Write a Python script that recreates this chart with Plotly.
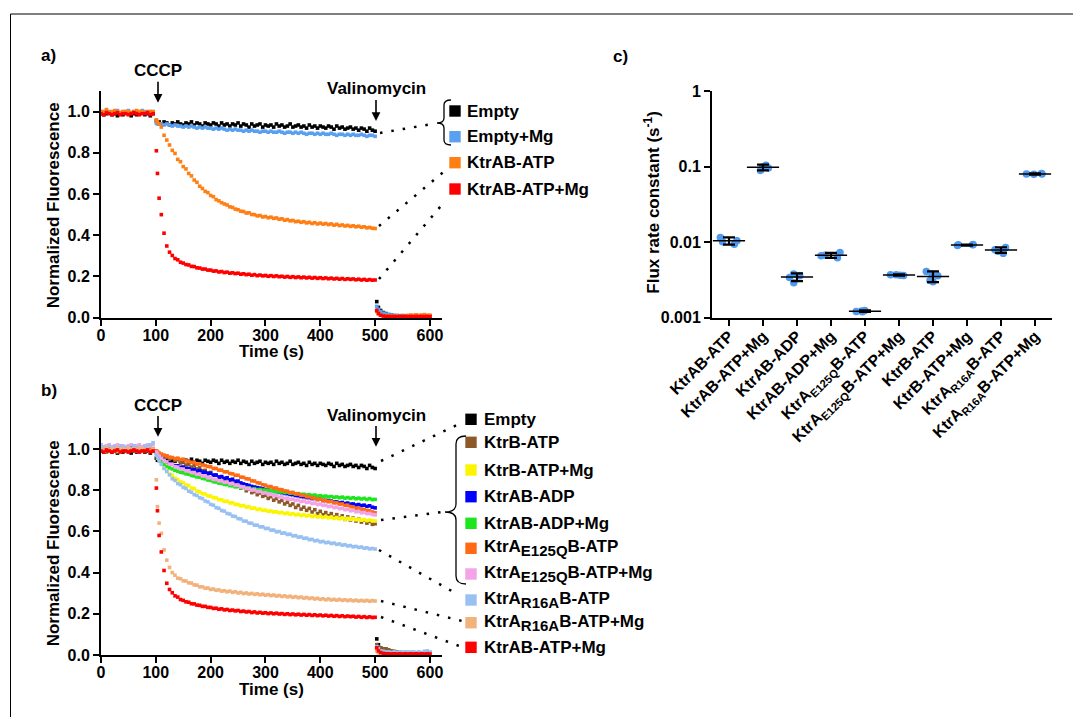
import plotly.graph_objects as go

# page body has an 8px margin: draw a 1065x709 figure and map reference pixels onto it
OFF = 8
W, H = 1081 - 2 * OFF, 725 - 2 * OFF
FONT = "Liberation Sans, Arial, sans-serif"


def X(p):
    return (p - OFF) / W


def Y(p):
    return 1 - (p - OFF) / H


# ---------------- time grid (s) ----------------
t_pre = list(range(0, 100, 5))
t_post = [101, 103, 106] + list(range(110, 501, 5))
t_val = [503, 506] + list(range(510, 601, 5))
time = t_pre + t_post + t_val

# ---------------- panel a / b series (normalized fluorescence) ----------------
empty = [
    0.99, 0.985, 0.99, 0.995, 0.985, 0.99, 0.98, 0.99, 0.985, 0.995,
    0.99, 0.98, 0.99, 0.985, 0.99, 0.995, 0.985, 0.99, 0.98, 0.99,
    0.955, 0.945, 0.95,
    0.94, 0.95, 0.945, 0.935, 0.945, 0.94, 0.95, 0.94, 0.935, 0.945,
    0.94, 0.95, 0.935, 0.945, 0.94, 0.93, 0.945, 0.94, 0.935, 0.945,
    0.94, 0.93, 0.945, 0.935, 0.94, 0.93, 0.94, 0.935, 0.945, 0.93,
    0.94, 0.935, 0.925, 0.94, 0.93, 0.935, 0.94, 0.925, 0.935, 0.93,
    0.935, 0.925, 0.94, 0.93, 0.935, 0.925, 0.93, 0.94, 0.925, 0.93,
    0.935, 0.925, 0.93, 0.92, 0.935, 0.925, 0.93, 0.92, 0.93, 0.925,
    0.92, 0.93, 0.925, 0.915, 0.93, 0.92, 0.925, 0.915, 0.92, 0.925,
    0.915, 0.92, 0.91, 0.92, 0.915, 0.905, 0.92, 0.91, 0.905,
    0.078, 0.05,
    0.035, 0.025, 0.02, 0.015, 0.012, 0.01, 0.01, 0.008, 0.01, 0.008,
    0.01, 0.008, 0.01, 0.008, 0.01, 0.01, 0.008, 0.01, 0.008,
]
empty_mg = [
    1.0, 0.995, 1.005, 1.0, 0.995, 1.0, 1.005, 0.995, 1.0, 1.0,
    1.005, 0.995, 1.0, 1.0, 0.995, 1.005, 1.0, 0.995, 1.0, 1.0,
    0.945, 0.94, 0.94,
    0.94, 0.935, 0.94, 0.935, 0.93, 0.935, 0.93, 0.93, 0.925, 0.93,
    0.925, 0.93, 0.925, 0.92, 0.925, 0.92, 0.925, 0.92, 0.92, 0.915,
    0.92, 0.915, 0.92, 0.915, 0.91, 0.915, 0.91, 0.915, 0.91, 0.91,
    0.905, 0.91, 0.905, 0.91, 0.905, 0.905, 0.9, 0.905, 0.905, 0.9,
    0.905, 0.9, 0.9, 0.905, 0.9, 0.895, 0.9, 0.9, 0.895, 0.9,
    0.895, 0.9, 0.895, 0.89, 0.895, 0.895, 0.89, 0.895, 0.89, 0.895,
    0.89, 0.89, 0.895, 0.89, 0.885, 0.89, 0.89, 0.885, 0.89, 0.885,
    0.89, 0.885, 0.885, 0.89, 0.885, 0.88, 0.885, 0.885, 0.88,
    0.055, 0.04,
    0.03, 0.022, 0.018, 0.015, 0.012, 0.01, 0.01, 0.01, 0.008, 0.01,
    0.008, 0.01, 0.008, 0.01, 0.008, 0.008, 0.01, 0.008, 0.01,
]
ktrab_atp = [
    1.0, 1.0, 1.01, 0.995, 1.0, 1.005, 1.0, 0.995, 1.0, 1.0,
    1.0, 0.995, 1.0, 1.005, 1.0, 1.0, 0.995, 1.0, 1.0, 1.0,
    0.96, 0.95, 0.94,
    0.925, 0.885, 0.862, 0.838, 0.812, 0.797, 0.768, 0.757, 0.733, 0.722,
    0.70, 0.688, 0.668, 0.657, 0.638, 0.627, 0.613, 0.607, 0.593, 0.587,
    0.573, 0.567, 0.558, 0.552, 0.547, 0.538, 0.535, 0.527, 0.524, 0.517,
    0.515, 0.508, 0.509, 0.501, 0.5, 0.494, 0.496, 0.489, 0.491, 0.485,
    0.488, 0.482, 0.484, 0.478, 0.480, 0.473, 0.476, 0.470, 0.472, 0.466,
    0.468, 0.463, 0.466, 0.46, 0.463, 0.457, 0.461, 0.455, 0.459, 0.454,
    0.457, 0.452, 0.455, 0.449, 0.453, 0.447, 0.45, 0.445, 0.448, 0.443,
    0.446, 0.441, 0.444, 0.439, 0.441, 0.436, 0.438, 0.434, 0.433,
    0.03, 0.02,
    0.012, 0.01, 0.008, 0.008, 0.006, 0.008, 0.006, 0.008, 0.006, 0.008,
    0.01, 0.012, 0.01, 0.014, 0.01, 0.012, 0.015, 0.01, 0.012,
]
ktrab_atp_mg = [
    0.99, 0.985, 0.995, 0.99, 0.985, 0.99, 0.995, 0.985, 0.99, 0.99,
    0.985, 0.99, 0.995, 0.99, 0.985, 0.99, 0.99, 0.995, 0.985, 0.99,
    0.81, 0.70, 0.58,
    0.50, 0.41, 0.348, 0.318, 0.302, 0.287, 0.281, 0.269, 0.265, 0.258,
    0.256, 0.249, 0.248, 0.242, 0.241, 0.236, 0.236, 0.231, 0.231, 0.226,
    0.227, 0.222, 0.224, 0.219, 0.221, 0.216, 0.218, 0.214, 0.216, 0.211,
    0.213, 0.209, 0.211, 0.206, 0.209, 0.204, 0.207, 0.203, 0.205, 0.201,
    0.204, 0.2, 0.203, 0.199, 0.201, 0.197, 0.2, 0.196, 0.199, 0.195,
    0.198, 0.194, 0.197, 0.193, 0.196, 0.192, 0.195, 0.191, 0.194, 0.19,
    0.193, 0.189, 0.192, 0.188, 0.191, 0.187, 0.19, 0.186, 0.189, 0.186,
    0.188, 0.184, 0.187, 0.183, 0.186, 0.182, 0.185, 0.182, 0.183,
    0.035, 0.02,
    0.012, 0.008, 0.006, 0.006, 0.005, 0.006, 0.005, 0.006, 0.005, 0.006,
    0.005, 0.006, 0.005, 0.006, 0.005, 0.006, 0.005, 0.006, 0.005,
]
ktrb_atp = [
    0.99, 1.0, 0.985, 0.995, 1.0, 0.99, 0.985, 1.0, 0.995, 0.99,
    0.985, 1.0, 0.99, 0.995, 0.985, 1.0, 0.99, 0.995, 1.0, 0.99,
    0.99, 0.98, 0.975,
    0.97, 0.962, 0.965, 0.952, 0.957, 0.944, 0.948, 0.932, 0.936, 0.922,
    0.925, 0.912, 0.918, 0.903, 0.908, 0.894, 0.896, 0.884, 0.886, 0.872,
    0.873, 0.861, 0.866, 0.849, 0.853, 0.837, 0.843, 0.826, 0.829, 0.81,
    0.817, 0.797, 0.806, 0.788, 0.793, 0.778, 0.786, 0.77, 0.775, 0.76,
    0.768, 0.751, 0.759, 0.743, 0.75, 0.733, 0.741, 0.726, 0.733, 0.716,
    0.726, 0.708, 0.717, 0.702, 0.711, 0.694, 0.705, 0.686, 0.697, 0.681,
    0.691, 0.676, 0.686, 0.669, 0.681, 0.664, 0.675, 0.658, 0.67, 0.655,
    0.664, 0.65, 0.66, 0.645, 0.655, 0.64, 0.648, 0.634, 0.637,
    0.05, 0.04,
    0.035, 0.03, 0.03, 0.025, 0.02, 0.018, 0.015, 0.015, 0.012, 0.012,
    0.01, 0.012, 0.01, 0.01, 0.012, 0.01, 0.01, 0.012, 0.01,
]
ktrb_atp_mg = [
    1.0, 0.99, 1.0, 0.995, 1.0, 1.005, 0.99, 1.0, 0.995, 1.0,
    0.99, 1.0, 1.005, 0.995, 0.99, 1.0, 0.995, 1.0, 0.99, 1.0,
    0.98, 0.965, 0.95,
    0.93, 0.91, 0.895, 0.878, 0.872, 0.858, 0.852, 0.84, 0.836, 0.825,
    0.822, 0.81, 0.807, 0.795, 0.792, 0.783, 0.781, 0.772, 0.771, 0.763,
    0.762, 0.754, 0.753, 0.746, 0.746, 0.738, 0.738, 0.731, 0.73, 0.724,
    0.725, 0.718, 0.719, 0.712, 0.713, 0.706, 0.708, 0.702, 0.703, 0.697,
    0.699, 0.694, 0.695, 0.69, 0.692, 0.686, 0.689, 0.683, 0.686, 0.68,
    0.683, 0.677, 0.68, 0.675, 0.678, 0.672, 0.676, 0.67, 0.673, 0.668,
    0.671, 0.666, 0.669, 0.663, 0.667, 0.661, 0.665, 0.659, 0.663, 0.658,
    0.661, 0.656, 0.659, 0.654, 0.657, 0.652, 0.655, 0.651, 0.65,
    0.03, 0.02,
    0.012, 0.01, 0.008, 0.008, 0.008, 0.006, 0.008, 0.006, 0.008, 0.006,
    0.008, 0.006, 0.008, 0.006, 0.008, 0.006, 0.008, 0.006, 0.008,
]
ktrab_adp = [
    1.0, 1.005, 0.995, 1.0, 1.0, 0.995, 1.005, 1.0, 0.995, 1.0,
    1.0, 1.005, 0.995, 1.0, 0.995, 1.0, 1.005, 1.0, 0.995, 1.0,
    0.985, 0.975, 0.965,
    0.955, 0.945, 0.937, 0.928, 0.926, 0.918, 0.918, 0.911, 0.912, 0.905,
    0.905, 0.898, 0.9, 0.892, 0.895, 0.887, 0.887, 0.88, 0.882, 0.873,
    0.873, 0.864, 0.865, 0.857, 0.86, 0.85, 0.853, 0.843, 0.844, 0.835,
    0.83, 0.826, 0.823, 0.818, 0.815, 0.812, 0.81, 0.806, 0.803, 0.8,
    0.798, 0.794, 0.793, 0.789, 0.788, 0.784, 0.783, 0.779, 0.778, 0.774,
    0.773, 0.769, 0.768, 0.764, 0.764, 0.759, 0.76, 0.755, 0.756, 0.75,
    0.75, 0.747, 0.747, 0.742, 0.743, 0.738, 0.74, 0.735, 0.737, 0.732,
    0.733, 0.728, 0.73, 0.725, 0.727, 0.721, 0.724, 0.717, 0.714,
    0.035, 0.025,
    0.015, 0.012, 0.01, 0.01, 0.008, 0.008, 0.008, 0.01, 0.008, 0.008,
    0.01, 0.008, 0.008, 0.01, 0.008, 0.008, 0.01, 0.008, 0.008,
]
ktrab_adp_mg = [
    0.995, 1.0, 1.005, 0.995, 1.0, 0.995, 1.0, 1.005, 1.0, 0.995,
    1.0, 0.995, 1.005, 1.0, 0.995, 1.0, 1.0, 0.995, 1.005, 1.0,
    0.98, 0.97, 0.955,
    0.94, 0.925, 0.915, 0.908, 0.903, 0.896, 0.892, 0.887, 0.884, 0.879,
    0.877, 0.871, 0.869, 0.864, 0.863, 0.857, 0.855, 0.849, 0.847, 0.841,
    0.839, 0.834, 0.833, 0.828, 0.827, 0.822, 0.821, 0.816, 0.817, 0.813,
    0.813, 0.809, 0.81, 0.805, 0.806, 0.802, 0.803, 0.8, 0.8, 0.797,
    0.798, 0.794, 0.795, 0.791, 0.792, 0.788, 0.79, 0.785, 0.786, 0.782,
    0.783, 0.779, 0.78, 0.776, 0.778, 0.774, 0.776, 0.771, 0.773, 0.769,
    0.771, 0.767, 0.769, 0.765, 0.767, 0.763, 0.766, 0.761, 0.764, 0.76,
    0.763, 0.758, 0.761, 0.757, 0.76, 0.755, 0.759, 0.754, 0.755,
    0.03, 0.02,
    0.012, 0.01, 0.01, 0.008, 0.008, 0.008, 0.01, 0.008, 0.008, 0.008,
    0.008, 0.01, 0.008, 0.008, 0.008, 0.01, 0.008, 0.008, 0.008,
]
e125q_atp = [
    1.0, 0.995, 1.005, 1.0, 0.995, 1.0, 1.0, 1.005, 0.995, 1.0,
    1.005, 1.0, 0.995, 1.0, 1.0, 0.995, 1.005, 1.0, 1.0, 0.995,
    0.99, 0.985, 0.98,
    0.975, 0.97, 0.966, 0.96, 0.958, 0.953, 0.955, 0.948, 0.95, 0.942,
    0.94, 0.935, 0.934, 0.926, 0.928, 0.922, 0.919, 0.915, 0.913, 0.905,
    0.905, 0.897, 0.897, 0.889, 0.889, 0.881, 0.879, 0.872, 0.872, 0.863,
    0.862, 0.855, 0.854, 0.845, 0.844, 0.836, 0.834, 0.826, 0.824, 0.817,
    0.817, 0.81, 0.81, 0.803, 0.802, 0.796, 0.795, 0.788, 0.789, 0.782,
    0.782, 0.775, 0.775, 0.768, 0.768, 0.762, 0.761, 0.754, 0.756, 0.749,
    0.75, 0.744, 0.745, 0.738, 0.739, 0.732, 0.733, 0.726, 0.727, 0.72,
    0.718, 0.712, 0.712, 0.706, 0.706, 0.7, 0.7, 0.694, 0.69,
    0.03, 0.02,
    0.015, 0.012, 0.01, 0.01, 0.008, 0.008, 0.008, 0.008, 0.01, 0.008,
    0.008, 0.01, 0.012, 0.01, 0.008, 0.01, 0.008, 0.008, 0.008,
]
e125q_atp_mg = [
    1.02, 1.01, 1.015, 1.02, 1.01, 1.015, 1.02, 1.01, 1.015, 1.01,
    1.015, 1.02, 1.01, 1.015, 1.02, 1.01, 1.015, 1.02, 1.015, 1.02,
    0.985, 0.975, 0.965,
    0.955, 0.945, 0.937, 0.926, 0.924, 0.914, 0.912, 0.903, 0.902, 0.894,
    0.894, 0.885, 0.885, 0.877, 0.877, 0.869, 0.869, 0.86, 0.86, 0.852,
    0.852, 0.845, 0.845, 0.838, 0.839, 0.831, 0.832, 0.824, 0.824, 0.816,
    0.816, 0.808, 0.808, 0.8, 0.801, 0.793, 0.794, 0.786, 0.787, 0.78,
    0.78, 0.773, 0.774, 0.766, 0.767, 0.76, 0.761, 0.755, 0.756, 0.75,
    0.752, 0.745, 0.747, 0.74, 0.742, 0.735, 0.737, 0.73, 0.732, 0.726,
    0.727, 0.72, 0.722, 0.715, 0.717, 0.71, 0.712, 0.705, 0.707, 0.7,
    0.702, 0.695, 0.697, 0.69, 0.692, 0.686, 0.687, 0.682, 0.68,
    0.02, 0.015,
    0.01, 0.008, 0.008, 0.006, 0.008, 0.006, 0.008, 0.006, 0.008, 0.006,
    0.008, 0.006, 0.008, 0.006, 0.008, 0.006, 0.008, 0.006, 0.008,
]
r16a_atp = [
    1.02, 1.01, 1.0, 1.015, 1.005, 1.01, 1.0, 1.015, 1.01, 1.005,
    1.01, 1.0, 1.015, 1.005, 1.01, 1.0, 1.015, 1.01, 1.02, 1.03,
    0.97, 0.955, 0.94,
    0.925, 0.905, 0.89, 0.874, 0.855, 0.847, 0.832, 0.826, 0.813, 0.808,
    0.795, 0.79, 0.778, 0.774, 0.763, 0.759, 0.747, 0.743, 0.731, 0.727,
    0.715, 0.712, 0.701, 0.698, 0.687, 0.684, 0.674, 0.672, 0.662, 0.66,
    0.65, 0.649, 0.64, 0.639, 0.63, 0.63, 0.622, 0.622, 0.614, 0.614,
    0.606, 0.606, 0.598, 0.599, 0.591, 0.592, 0.585, 0.586, 0.578, 0.579,
    0.572, 0.573, 0.566, 0.567, 0.56, 0.561, 0.554, 0.556, 0.549, 0.551,
    0.545, 0.547, 0.541, 0.543, 0.537, 0.539, 0.533, 0.535, 0.529, 0.531,
    0.525, 0.527, 0.522, 0.524, 0.518, 0.52, 0.515, 0.517, 0.514,
    0.04, 0.03,
    0.02, 0.018, 0.015, 0.015, 0.012, 0.015, 0.012, 0.015, 0.012, 0.015,
    0.015, 0.012, 0.015, 0.012, 0.015, 0.012, 0.018, 0.02, 0.015,
]
r16a_atp_mg = [
    1.0, 0.99, 1.005, 0.995, 1.0, 0.99, 1.005, 0.995, 1.0, 0.99,
    1.005, 0.995, 1.0, 0.99, 1.005, 1.0, 0.995, 1.0, 0.99, 1.0,
    0.85, 0.72, 0.64,
    0.59, 0.51, 0.46, 0.425, 0.40, 0.387, 0.373, 0.37, 0.36, 0.359,
    0.35, 0.349, 0.34, 0.339, 0.331, 0.331, 0.324, 0.325, 0.318, 0.32,
    0.314, 0.316, 0.31, 0.312, 0.307, 0.31, 0.304, 0.307, 0.301, 0.304,
    0.298, 0.301, 0.296, 0.299, 0.294, 0.297, 0.292, 0.295, 0.29, 0.293,
    0.288, 0.291, 0.286, 0.289, 0.284, 0.287, 0.282, 0.285, 0.28, 0.283,
    0.278, 0.281, 0.276, 0.279, 0.274, 0.277, 0.272, 0.275, 0.27, 0.273,
    0.268, 0.272, 0.267, 0.27, 0.266, 0.27, 0.265, 0.268, 0.264, 0.267,
    0.263, 0.266, 0.262, 0.265, 0.262, 0.265, 0.261, 0.264, 0.262,
    0.02, 0.01,
    0.006, 0.005, 0.004, 0.004, 0.004, 0.004, 0.004, 0.004, 0.004, 0.004,
    0.004, 0.004, 0.004, 0.004, 0.004, 0.004, 0.004, 0.004, 0.004,
]

names_a = ["Empty", "Empty+Mg", "KtrAB-ATP", "KtrAB-ATP+Mg"]
series_a = [empty, empty_mg, ktrab_atp, ktrab_atp_mg]
colors_a = ["#000000", "#5aa0f0", "#ff7f14", "#ff0000"]

SUB = '<sub><span style="font-size:15px">{}</span></sub>'
names_b = [
    "Empty", "KtrB-ATP", "KtrB-ATP+Mg", "KtrAB-ADP", "KtrAB-ADP+Mg",
    "KtrA" + SUB.format("E125Q") + "B-ATP",
    "KtrA" + SUB.format("E125Q") + "B-ATP+Mg",
    "KtrA" + SUB.format("R16A") + "B-ATP",
    "KtrA" + SUB.format("R16A") + "B-ATP+Mg",
    "KtrAB-ATP+Mg",
]
series_b = [empty, ktrb_atp, ktrb_atp_mg, ktrab_adp, ktrab_adp_mg,
            e125q_atp, e125q_atp_mg, r16a_atp, r16a_atp_mg, ktrab_atp_mg]
colors_b = ["#000000", "#8c5a28", "#fbf500", "#0000ff", "#1ee61e",
            "#ff6a13", "#f3a3e6", "#98c1f2", "#f2b27c", "#ff0000"]

# ---------------- panel c ----------------
categories = [
    "KtrAB-ATP", "KtrAB-ATP+Mg", "KtrAB-ADP", "KtrAB-ADP+Mg",
    "KtrA<sub>E125Q</sub>B-ATP", "KtrA<sub>E125Q</sub>B-ATP+Mg",
    "KtrB-ATP", "KtrB-ATP+Mg",
    "KtrA<sub>R16A</sub>B-ATP", "KtrA<sub>R16A</sub>B-ATP+Mg",
]
replicates = [
    [0.0115, 0.0104, 0.0094, 0.0101],
    [0.104, 0.099, 0.089, 0.096],
    [0.0038, 0.0036, 0.0029, 0.0034],
    [0.0073, 0.0067, 0.0062, 0.0066],
    [0.00125, 0.00121, 0.00123, 0.00120],
    [0.0037, 0.00365, 0.0037, 0.00362],
    [0.0041, 0.0038, 0.0030, 0.0031, 0.0036],
    [0.0093, 0.0092, 0.0090, 0.0092],
    [0.0085, 0.0079, 0.0071, 0.0076],
    [0.081, 0.079, 0.080, 0.0795],
]
means = [0.0104, 0.0977, 0.00345, 0.0067, 0.00122, 0.00367, 0.00352, 0.00916, 0.00787, 0.0797]
sds = [0.00115, 0.0085, 0.0004, 0.00052, 0.00003, 0.00008, 0.00057, 0.00015, 0.00068, 0.0015]
y_ticks_c = [0.001, 0.01, 0.1, 1]
y_ticklabels_c = ["0.001", "0.01", "0.1", "1"]

fig = go.Figure()

for ys, col in zip(series_a, colors_a):
    fig.add_trace(go.Scatter(x=time, y=ys, mode="markers", xaxis="x", yaxis="y",
                             marker=dict(symbol="square", size=3.6, color=col),
                             cliponaxis=False, showlegend=False, hoverinfo="skip"))
for ys, col in zip(series_b, colors_b):
    fig.add_trace(go.Scatter(x=time, y=ys, mode="markers", xaxis="x2", yaxis="y2",
                             marker=dict(symbol="square", size=3.6, color=col),
                             cliponaxis=False, showlegend=False, hoverinfo="skip"))

bx, by = [], []
for i, reps in enumerate(replicates):
    bx += [i] * len(reps)
    by += reps
fig.add_trace(go.Box(x=bx, y=by, boxpoints="all", jitter=1.0, pointpos=0, width=0.6,
                     fillcolor="rgba(0,0,0,0)", line=dict(color="rgba(0,0,0,0)", width=0),
                     marker=dict(color="#4f9af0", size=7.5), xaxis="x3", yaxis="y3",
                     showlegend=False, hoverinfo="skip"))
fig.add_trace(go.Scatter(x=list(range(len(categories))), y=means, mode="markers",
                         xaxis="x3", yaxis="y3",
                         marker=dict(symbol="line-ew", size=23, color="black",
                                     line=dict(color="black", width=1.5)),
                         error_y=dict(type="data", array=sds, color="black",
                                      thickness=2.2, width=6),
                         showlegend=False, hoverinfo="skip", cliponaxis=False))

tickfont = dict(family=FONT, size=16, color="black", weight="bold")
common = dict(showline=True, linecolor="black", linewidth=2, ticks="outside",
              ticklen=6, tickwidth=2, tickcolor="black", showgrid=False,
              zeroline=False, tickfont=tickfont, automargin=False)
xr = [0, 622]
fig.update_layout(
    width=W, height=H, autosize=False,
    margin=dict(l=0, r=0, t=0, b=0, pad=0, autoexpand=False),
    showlegend=False,
    paper_bgcolor="white", plot_bgcolor="white",
    font=dict(family=FONT, color="black"),
    xaxis=dict(domain=[X(101), X(442)], range=xr, tickvals=[0, 100, 200, 300, 400, 500, 600],
               anchor="y", ticklabelstandoff=-4, **common),
    yaxis=dict(domain=[Y(317.7), Y(91)], range=[0, 1.1], tickvals=[0, 0.2, 0.4, 0.6, 0.8, 1.0],
               tickformat=".1f", anchor="x", **common),
    xaxis2=dict(domain=[X(101), X(442)], range=xr, tickvals=[0, 100, 200, 300, 400, 500, 600],
                anchor="y2", ticklabelstandoff=-4, **common),
    yaxis2=dict(domain=[Y(655), Y(428.3)], range=[0, 1.1], tickvals=[0, 0.2, 0.4, 0.6, 0.8, 1.0],
                tickformat=".1f", anchor="x2", **common),
    xaxis3=dict(domain=[X(712), X(1052)], range=[-0.5, 9.5], tickvals=list(range(10)),
                ticktext=categories, tickangle=-45, anchor="y3", ticklabelstandoff=-5, **common),
    yaxis3=dict(domain=[Y(317.7), Y(91)], type="log", range=[-3, 0], tickvals=y_ticks_c,
                ticktext=y_ticklabels_c, anchor="x3", **common),
)

shapes = []
ann = []


def text(x, y, s, size=17, xanchor="center", angle=0):
    ann.append(dict(x=X(x), y=Y(y), xref="paper", yref="paper", text=s, showarrow=False,
                    xanchor=xanchor, yanchor="middle", textangle=angle,
                    font=dict(family=FONT, size=size, color="black", weight="bold")))


def arrow_label(x, ytext, yhead, s):
    ann.append(dict(x=X(x), y=Y(yhead), xref="paper", yref="paper", text=s,
                    showarrow=True, ax=0, ay=ytext - yhead, arrowhead=2, arrowsize=1.1,
                    arrowwidth=1.6, arrowcolor="black",
                    font=dict(family=FONT, size=17, color="black", weight="bold")))


def dotted(x0, y0, x1, y1):
    shapes.append(dict(type="line", xref="paper", yref="paper", x0=X(x0), y0=Y(y0),
                       x1=X(x1), y1=Y(y1), line=dict(color="black", width=2.5, dash="2.5px,9px")))


def square(cx, cy, col, s=11.4):
    shapes.append(dict(type="rect", xref="paper", yref="paper", x0=X(cx - s / 2), x1=X(cx + s / 2),
                       y0=Y(cy + s / 2), y1=Y(cy - s / 2), fillcolor=col, line=dict(width=0)))


def brace(xe, y1, y2, xv, xt, ym, r):
    p = (f"M{X(xe)},{Y(y1)} Q{X(xv)},{Y(y1)} {X(xv)},{Y(y1 + r)} "
         f"L{X(xv)},{Y(ym - r)} Q{X(xv)},{Y(ym)} {X(xt)},{Y(ym)} "
         f"Q{X(xv)},{Y(ym)} {X(xv)},{Y(ym + r)} L{X(xv)},{Y(y2 - r)} "
         f"Q{X(xv)},{Y(y2)} {X(xe)},{Y(y2)}")
    shapes.append(dict(type="path", xref="paper", yref="paper", path=p,
                       line=dict(color="black", width=1.3)))


# frame
shapes.append(dict(type="line", xref="paper", yref="paper", x0=X(10.5), x1=X(10.5), y0=Y(14), y1=0,
                   line=dict(color="black", width=1)))
shapes.append(dict(type="line", xref="paper", yref="paper", x0=X(10.5), x1=1, y0=Y(14), y1=Y(14),
                   line=dict(color="black", width=1)))

# panel labels
text(48, 55, "a)")
text(49, 390, "b)")
text(620, 56, "c)")

# axis titles
text(271, 351.7, "Time (s)")
text(271, 689, "Time (s)")
text(53.3, 205, "Normalized Fluorescence", angle=-90)
text(53.3, 543, "Normalized Fluorescence", angle=-90)
text(651.7, 202, "Flux rate constant (s<sup>-1</sup>)", angle=-90)

# event arrows
arrow_label(158, 70.7, 102.7, "CCCP")
arrow_label(376, 89, 121, "Valinomycin")
arrow_label(158, 405, 436.7, "CCCP")
arrow_label(376, 415, 446.7, "Valinomycin")

# panel a legend
rows_a = [111, 136.7, 162.7, 189]
for nm, col, ry in zip(names_a, colors_a, rows_a):
    square(455, ry, col)
    text(465, ry, nm, xanchor="left")
brace(451, 100, 145, 444, 437, 123, 5)
dotted(380, 133, 432, 124)
dotted(379, 226, 447, 169)
dotted(379, 279, 446, 200)

# panel b legend
rows_b = [419.3, 442.3, 470, 496.7, 523.3, 548.3, 574, 600, 622.7, 647.3]
for nm, col, ry in zip(names_b, colors_b, rows_b):
    square(471, ry, col)
    text(481.5, ry, nm, xanchor="left")
brace(466, 436, 584, 456, 445, 512, 8)
dotted(381, 461, 457, 425)
dotted(381, 520, 442, 512)
dotted(379, 550, 457, 594)
dotted(381, 601, 462, 621)
dotted(381, 617, 462, 647)

fig.update_layout(shapes=shapes, annotations=ann)
fig.write_html("out.html")
